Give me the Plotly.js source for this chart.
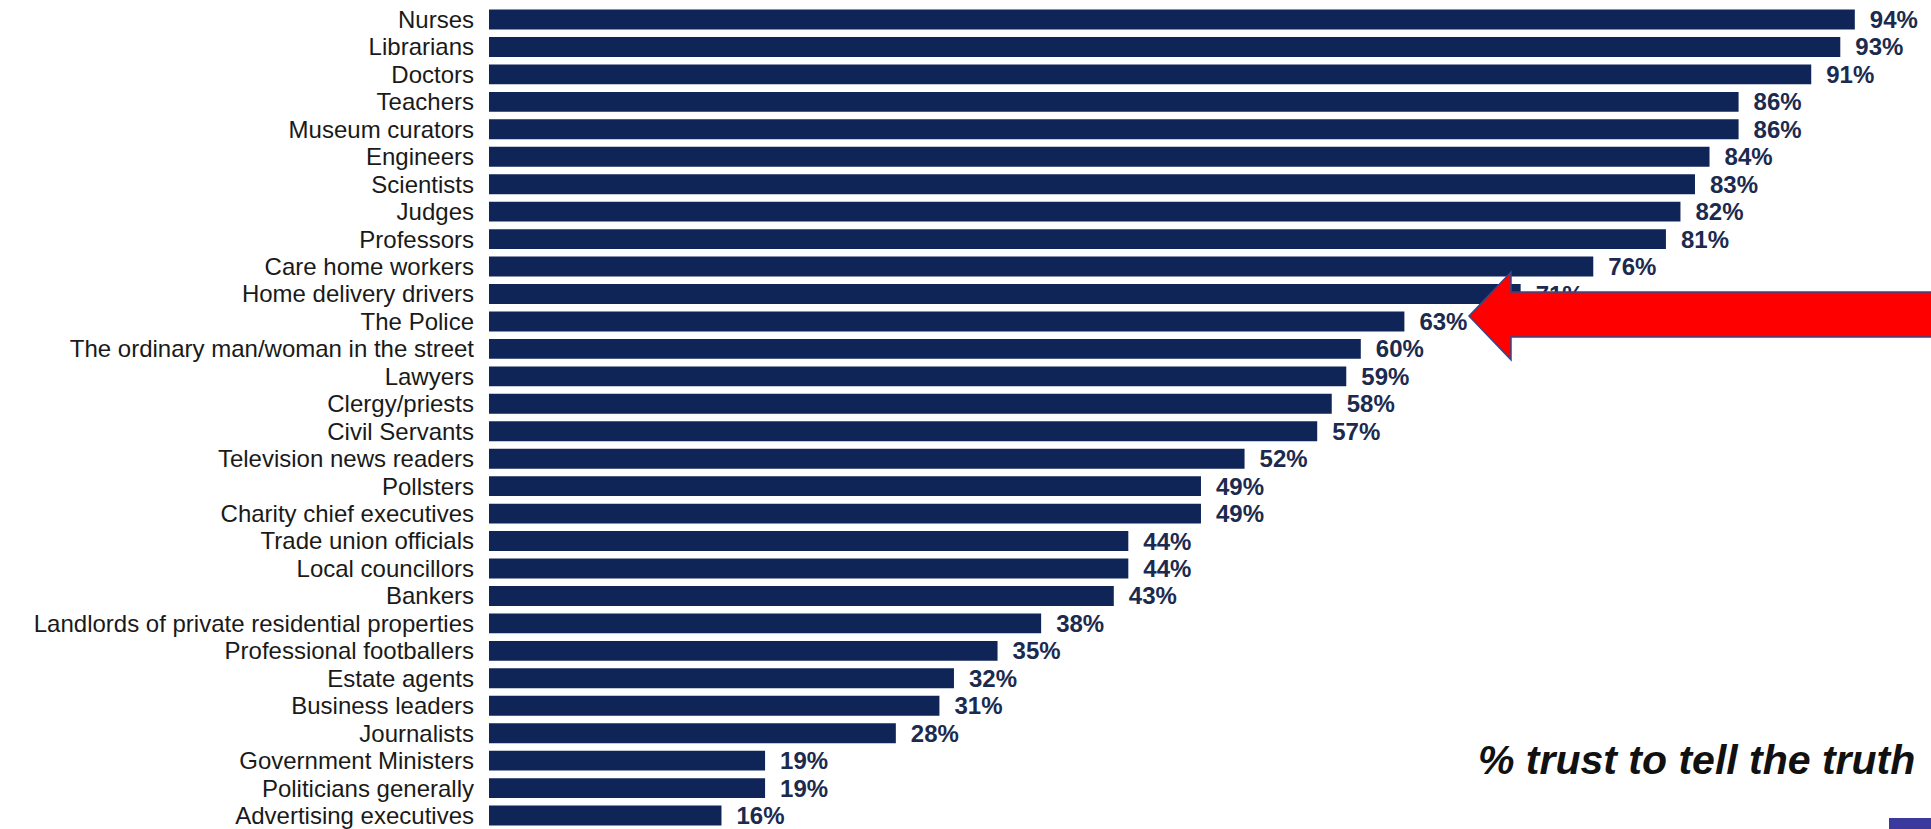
<!DOCTYPE html>
<html>
<head>
<meta charset="utf-8">
<script src="https://cdn.plot.ly/plotly-3.0.1.min.js"></script>
<style>
  html, body { margin: 0; padding: 0; background: #ffffff; overflow: hidden; }
  #chart { width: 1931px; height: 829px; }
</style>
</head>
<body>
<div id="chart"></div>
<script>
const categories = [
  "Nurses", "Librarians", "Doctors", "Teachers", "Museum curators",
  "Engineers", "Scientists", "Judges", "Professors", "Care home workers",
  "Home delivery drivers", "The Police", "The ordinary man/woman in the street",
  "Lawyers", "Clergy/priests", "Civil Servants", "Television news readers",
  "Pollsters", "Charity chief executives", "Trade union officials",
  "Local councillors", "Bankers", "Landlords of private residential properties",
  "Professional footballers", "Estate agents", "Business leaders", "Journalists",
  "Government Ministers", "Politicians generally", "Advertising executives"
];
const trustPct = [
  94, 93, 91, 86, 86,
  84, 83, 82, 81, 76,
  71, 63, 60,
  59, 58, 57, 52,
  49, 49, 44,
  44, 43, 38,
  35, 32, 31, 28,
  19, 19, 16
];
const chartTitle = "% trust to tell the truth";

// layout geometry (pixels)
const W = 1931, H = 829;
const left = 489;
const pxPerUnit = 14.53;
const rowTop = 19.5, rowStep = 27.45;

const px2x = p => (p - left) / (W - left);
const px2y = p => 1 - p / H;

const arrowPts = [
  [1469, 316], [1511, 272], [1511, 292], [1940, 292],
  [1940, 337], [1511, 337], [1511, 360]
];
const arrowPath = 'M ' + arrowPts.map(p => px2x(p[0]) + ',' + px2y(p[1])).join(' L ') + ' Z';

const trace = {
  type: 'bar',
  orientation: 'h',
  y: categories,
  x: trustPct,
  marker: { color: '#0f2558', line: { width: 0 } },
  text: trustPct.map(v => '\u2002' + v + '%'),
  texttemplate: '%{text}',
  textposition: 'outside',
  constraintext: 'none',
  cliponaxis: false,
  textfont: { family: 'Liberation Sans, Arial, sans-serif', size: 24, color: '#1b2a4e', weight: 'bold' },
  hoverinfo: 'none'
};

const layout = {
  width: W, height: H,
  margin: { l: left, r: 0, t: 0, b: 0, pad: 0 },
  paper_bgcolor: '#ffffff',
  plot_bgcolor: '#ffffff',
  showlegend: false,
  bargap: 0.274,
  xaxis: {
    range: [0, (W - left) / pxPerUnit],
    visible: false, showgrid: false, zeroline: false, fixedrange: true
  },
  yaxis: {
    type: 'category',
    range: [(H - rowTop) / rowStep, -rowTop / rowStep],
    tickmode: 'array',
    tickvals: categories,
    ticktext: categories,
    showgrid: false, zeroline: false, showline: false,
    ticks: '',
    ticklabelstandoff: 14,
    automargin: false,
    tickfont: { family: 'Liberation Sans, Arial, sans-serif', size: 24, color: '#1a1a1a' },
    fixedrange: true
  },
  annotations: [{
    xref: 'paper', yref: 'paper',
    x: px2x(1917), y: px2y(760),
    xanchor: 'right', yanchor: 'middle',
    text: chartTitle,
    showarrow: false,
    font: { family: 'Liberation Sans, Arial, sans-serif', size: 41, color: '#111111', weight: 'bold', style: 'italic' }
  }],
  shapes: [
    {
      type: 'path', xref: 'paper', yref: 'paper', layer: 'above',
      path: arrowPath,
      fillcolor: '#ff0000',
      line: { color: '#2e4a8c', width: 1.5 }
    },
    {
      type: 'rect', xref: 'paper', yref: 'paper', layer: 'above',
      x0: px2x(1889), x1: px2x(1935), y0: px2y(818), y1: px2y(832),
      fillcolor: '#3a3a9e', line: { width: 0 }
    }
  ]
};

Plotly.newPlot('chart', [trace], layout, { displayModeBar: false, staticPlot: true });
</script>
</body>
</html>
